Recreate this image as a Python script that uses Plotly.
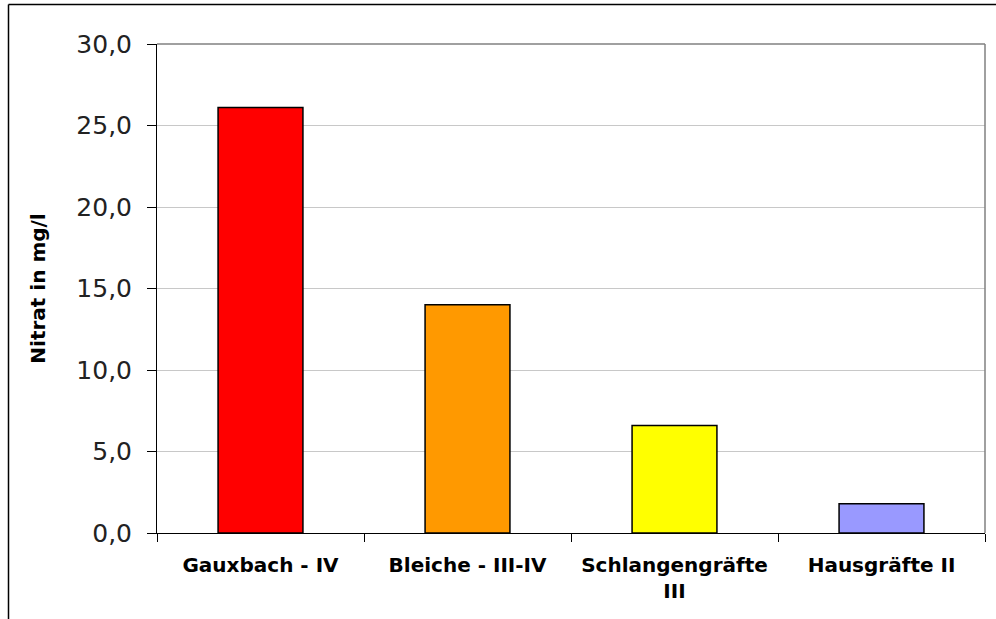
import plotly.graph_objects as go

# Nitrate concentration per water body (with quality class)
categories = ["Gauxbach - IV", "Bleiche - III-IV", "Schlangengräfte<br>III", "Hausgräfte II"]
nitrat = [26.1, 14.0, 6.6, 1.8]
bar_colors = ["#FF0000", "#FF9900", "#FFFF00", "#9999FF"]
y_ticks = [0, 5, 10, 15, 20, 25, 30]

W, H = 996, 619
ML, MR, MT, MB = 157, 11, 44, 86
pw, ph = W - ML - MR, H - MT - MB

fig = go.Figure(
    go.Bar(
        x=categories,
        y=nitrat,
        width=0.41,
        marker=dict(color=bar_colors, line=dict(color="#000000", width=1.5)),
    )
)

fig.update_layout(
    width=W,
    height=H,
    margin=dict(l=ML, r=MR, t=MT, b=MB, pad=0),
    paper_bgcolor="white",
    plot_bgcolor="white",
    separators=",.",
    showlegend=False,
    font=dict(family="DejaVu Sans", color="#000000"),
)

fig.update_yaxes(
    range=[0, 30],
    tickvals=y_ticks,
    tickformat=".1f",
    ticks="outside",
    ticklen=9,
    tickcolor="#000000",
    ticklabelstandoff=10,
    tickfont=dict(family="DejaVu Sans", size=25, color="#222222"),
    showline=True,
    linecolor="#000000",
    linewidth=1,
    showgrid=True,
    gridcolor="#c8c8c8",
    gridwidth=1,
    zeroline=False,
    title=dict(
        text="<b>Nitrat in mg/l</b>",
        font=dict(family="DejaVu Sans", size=20, color="#000000"),
        standoff=25,
    ),
)

fig.update_xaxes(
    tickson="boundaries",
    ticks="outside",
    ticklen=8,
    tickcolor="#000000",
    ticklabelstandoff=14,
    tickfont=dict(family="DejaVu Sans", size=20, color="#000000"),
    showline=True,
    linecolor="#000000",
    linewidth=1,
    showgrid=False,
    tickprefix="<b>",
    ticksuffix="</b>",
)

# gray frame on top and right of the plot area
fig.add_shape(type="line", xref="paper", yref="paper", x0=0, x1=1, y0=1, y1=1,
              line=dict(color="#808080", width=1.5))
fig.add_shape(type="line", xref="paper", yref="paper", x0=1, x1=1, y0=0, y1=1,
              line=dict(color="#808080", width=1.5))

# outer chart border (top and left edges visible)
fig.add_shape(type="line", xref="paper", yref="paper",
              x0=(8.5 - ML) / pw, x1=(W + 20 - ML) / pw,
              y0=(H - MB - 4.5) / ph, y1=(H - MB - 4.5) / ph,
              line=dict(color="#000000", width=1.5))
fig.add_shape(type="line", xref="paper", yref="paper",
              x0=(8.5 - ML) / pw, x1=(8.5 - ML) / pw,
              y0=(H - MB - 4.5) / ph, y1=-(MB + 20) / ph,
              line=dict(color="#000000", width=1.5))

fig.write_html("out.html")
